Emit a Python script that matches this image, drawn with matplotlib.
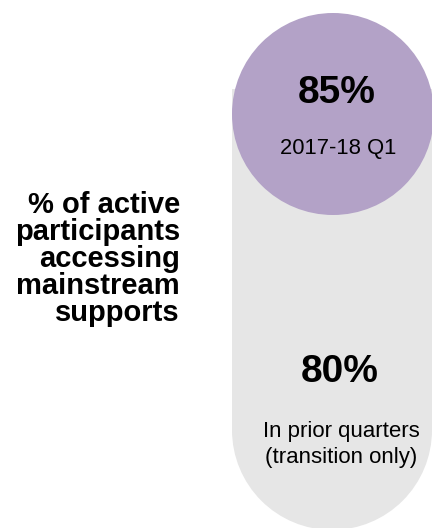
import matplotlib
matplotlib.use("Agg")
import matplotlib.pyplot as plt
from matplotlib.patches import Circle, Rectangle

plt.rcParams["font.family"] = ["Liberation Sans", "DejaVu Sans"]

# Data
values = [85, 80]
value_labels = ["2017-18 Q1", "In prior quarters\n(transition only)"]
measure_label = "% of active\nparticipants\naccessing\nmainstream\nsupports"

PURPLE = "#B3A2C7"
GREY = "#E6E6E6"

W, H = 432, 528
fig = plt.figure(figsize=(W / 100, H / 100), dpi=100)
ax = fig.add_axes([0, 0, 1, 1])
ax.set_xlim(0, W)
ax.set_ylim(H, 0)
ax.set_aspect("equal")
ax.axis("off")

# grey pill (prior quarters) with rounded bottom
ax.add_patch(Rectangle((232, 89), 200, 341, color=GREY, lw=0))
ax.add_patch(Circle((332, 430), 100, color=GREY, lw=0))

# purple circle (current quarter)
ax.add_patch(Circle((333, 114), 101, color=PURPLE, lw=0))

# current quarter text
ax.text(337, 103, f"{values[0]}%", ha="center", va="baseline",
        fontsize=28, fontweight="bold", color="black")
ax.text(338, 154, value_labels[0], ha="center", va="baseline",
        fontsize=15.8, color="black")

# prior quarters text (baseline = last line for multi-line text)
ax.text(340, 382, f"{values[1]}%", ha="center", va="baseline",
        fontsize=28, fontweight="bold", color="black")
ax.text(341, 463, value_labels[1], ha="center", va="baseline",
        fontsize=16, color="black", linespacing=1.29)

# measure label on the left
ax.text(180, 321, measure_label, ha="right", va="baseline",
        fontsize=21, fontweight="bold", color="black", linespacing=0.96,
        multialignment="right")

fig.savefig("out.png", dpi=100)
